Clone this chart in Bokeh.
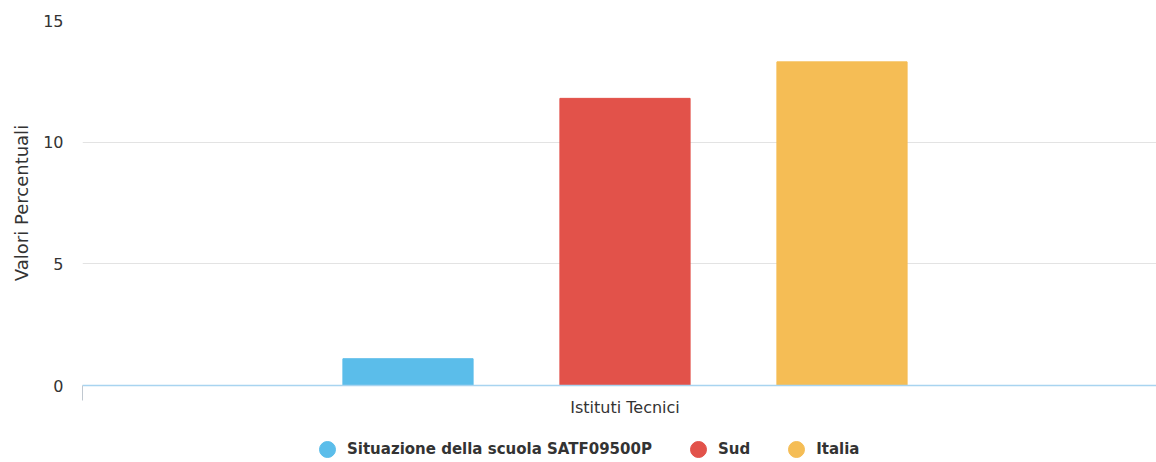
from bokeh.plotting import figure
from bokeh.layouts import column
from bokeh.models import (Range1d, FixedTicker, Legend, LegendItem, ColumnDataSource)
from bokeh.transform import dodge
from bokeh.embed import file_html
from bokeh.resources import INLINE

# ---- data ----
categories = ["Istituti Tecnici"]
series_names = ["Situazione della scuola SATF09500P", "Sud", "Italia"]
series_values = [1.1, 11.8, 13.3]
series_colors = ["#5bbdea", "#e2524a", "#f5bd55"]
y_ticks = [0, 5, 10, 15]
y_title = "Valori Percentuali"

FONT = "DejaVu Sans"

# ---- layout ----
W, H1, H2 = 1156, 425, 37
left, top, bottom = 82, 20, 40
frame_w = W - left
px_per_cat = 1085.0
x_start = -0.5
x_end = x_start + frame_w / px_per_cat

p = figure(width=W, height=H1, output_backend="svg", toolbar_location=None,
           x_range=Range1d(x_start, x_end), y_range=Range1d(0, 15),
           min_border_left=left, min_border_right=0, min_border_top=top,
           min_border_bottom=bottom)
p.outline_line_color = None
p.background_fill_color = "white"
p.border_fill_color = "white"

# legend-only figure below the chart
lf = figure(width=W, height=H2, output_backend="svg", toolbar_location=None,
            x_range=Range1d(0, 1), y_range=Range1d(0, 1),
            min_border_left=0, min_border_right=0, min_border_top=0,
            min_border_bottom=0)
lf.axis.visible = False
lf.grid.visible = False
lf.outline_line_color = None

offsets = [-0.2, 0.0, 0.2]
bar_w = 0.12
renderers = []
for name, val, col, off in zip(series_names, series_values, series_colors, offsets):
    src = ColumnDataSource(dict(x=[0], top=[val]))
    p.vbar(x=dodge("x", off), top="top", width=bar_w, source=src,
           fill_color=col, line_color=col, line_width=1)
    legend_src = ColumnDataSource(dict(x=[float("nan")], y=[float("nan")]))
    r = lf.scatter(x="x", y="y", source=legend_src, marker="circle", size=16,
                   fill_color=col, line_color=col)
    renderers.append(r)

# x axis
xa = p.xaxis[0]
xa.ticker = FixedTicker(ticks=[0], minor_ticks=[-0.5])
xa.major_label_overrides = {0: categories[0]}
xa.major_tick_out = 0
xa.major_tick_in = 0
xa.minor_tick_out = 15
xa.minor_tick_in = 0
xa.minor_tick_line_color = "#c0c8d0"
xa.axis_line_color = "#a8d4f0"
xa.axis_line_width = 1.5
xa.major_label_standoff = -3
xa.major_label_text_font = FONT
xa.major_label_text_font_size = "16px"
xa.major_label_text_color = "#333333"

# y axis
ya = p.yaxis[0]
ya.ticker = FixedTicker(ticks=y_ticks)
ya.axis_line_color = None
ya.major_tick_line_color = None
ya.minor_tick_line_color = None
ya.major_label_standoff = 13
ya.major_label_text_font = FONT
ya.major_label_text_font_size = "16px"
ya.major_label_text_color = "#333333"
ya.axis_label = y_title
ya.axis_label_text_font = FONT
ya.axis_label_text_font_size = "18px"
ya.axis_label_text_font_style = "normal"
ya.axis_label_text_color = "#333333"
ya.axis_label_standoff = 8

p.xgrid.grid_line_color = None
p.ygrid.grid_line_color = "#e3e3e3"
p.ygrid.ticker = FixedTicker(ticks=y_ticks)

legend = Legend(items=[LegendItem(label=n, renderers=[r]) for n, r in zip(series_names, renderers)],
                orientation="horizontal", location=(225, -7),
                label_text_font=FONT, label_text_font_size="15px",
                label_text_font_style="bold", label_text_color="#333333",
                glyph_width=40, glyph_height=40, label_standoff=-6, spacing=26,
                padding=0, margin=0, border_line_color=None,
                background_fill_alpha=0)
lf.add_layout(legend, "center")

layout = column(p, lf, spacing=0)
open("out.html", "w").write(file_html(layout, INLINE))
